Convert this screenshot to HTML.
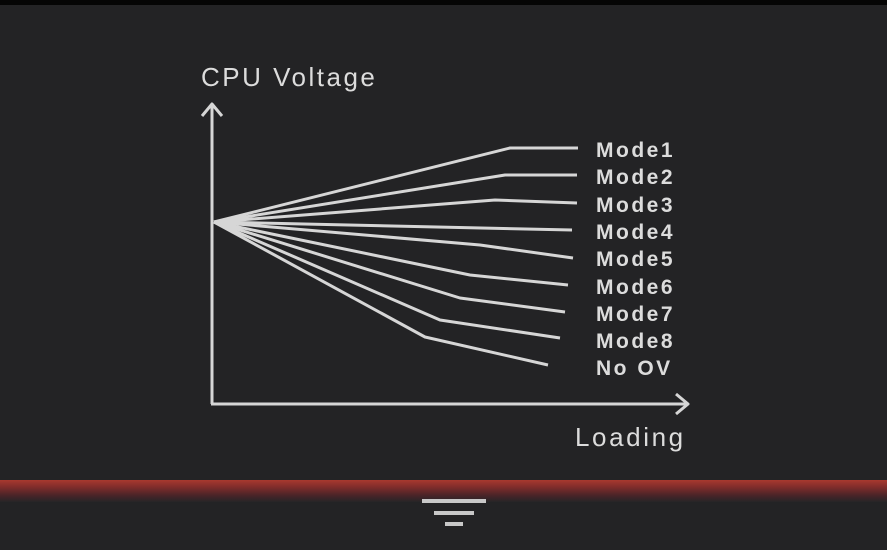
<!DOCTYPE html>
<html><head><style>
body{margin:0;width:887px;height:550px;background:#232325;overflow:hidden;position:relative;font-family:"Liberation Sans",sans-serif}
.top{position:absolute;left:0;top:0;width:887px;height:5px;background:#050505}
.band{position:absolute;left:0;top:480px;width:887px;height:22px;background:linear-gradient(#a8392f 0%,#832d2b 30%,#4a2428 70%,#262527 100%)}
.bar{position:absolute;background:#c8c8c8;height:4px}
</style></head><body>
<div class="top"></div>
<svg width="887" height="550" style="position:absolute;left:0;top:0">
<g stroke="#d6d6d6" stroke-width="3" fill="none" stroke-linejoin="round">
<path d="M212 404 V105 M202 116 L212 104 L222 116"/>
<path d="M211 404 H686 M676 394 L688 404 L676 414"/>
<path d="M214 222 L510 148 H578"/>
<path d="M214 222 L505 175 H577"/>
<path d="M214 222 L495 200 L577 203"/>
<path d="M214 222 L572 230"/>
<path d="M214 222 L480 245 L573 258"/>
<path d="M214 222 L470 275 L568 285"/>
<path d="M214 222 L460 298 L565 312"/>
<path d="M214 222 L440 320 L560 338"/>
<path d="M214 222 L425 337 L548 365"/>
</g>
<g fill="#dcdcdc" font-family="Liberation Sans, sans-serif" font-size="21" font-weight="bold" letter-spacing="2.5">
<text x="596" y="157">Mode1</text>
<text x="596" y="184">Mode2</text>
<text x="596" y="212">Mode3</text>
<text x="596" y="239">Mode4</text>
<text x="596" y="266">Mode5</text>
<text x="596" y="294">Mode6</text>
<text x="596" y="321">Mode7</text>
<text x="596" y="348">Mode8</text>
<text x="596" y="375">No OV</text>
</g>
<text x="201" y="86" fill="#dcdcdc" font-size="26" letter-spacing="2.5" font-family="Liberation Sans, sans-serif">CPU Voltage</text>
<text x="575" y="446" fill="#dcdcdc" font-size="26" letter-spacing="2.6" font-family="Liberation Sans, sans-serif">Loading</text>
</svg>
<div class="band"></div>
<div class="bar" style="left:422px;top:499px;width:64px"></div>
<div class="bar" style="left:434px;top:511px;width:40px"></div>
<div class="bar" style="left:445px;top:522px;width:18px"></div>
</body></html>
